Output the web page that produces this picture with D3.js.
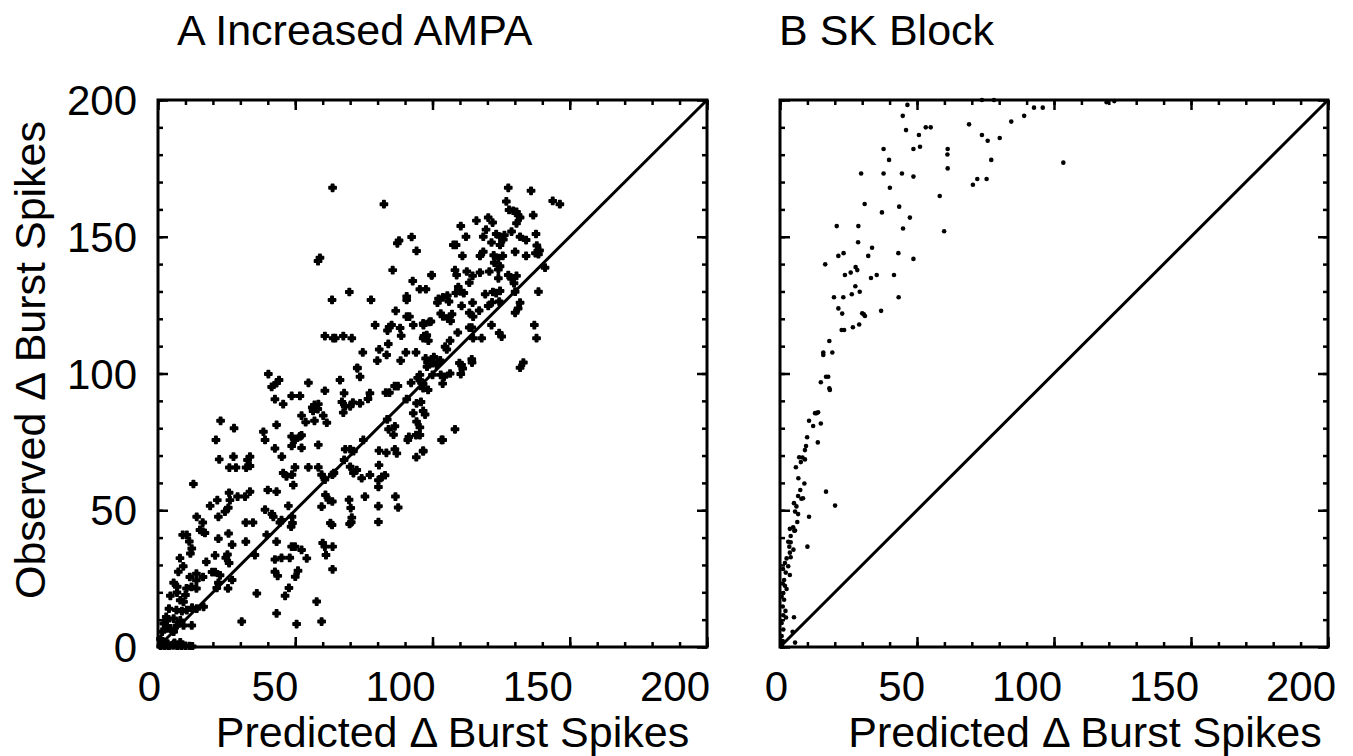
<!DOCTYPE html>
<html>
<head>
<meta charset="utf-8">
<script src="https://cdn.jsdelivr.net/npm/d3@7"></script>
<style>
  body { margin: 0; background: #fff; }
  svg { display: block; font-family: "Liberation Sans", Arial, Helvetica, sans-serif; }
</style>
</head>
<body>
<div id="chart"></div>
<script>
// Observed vs predicted change in burst spikes, two panels

// tick values for both axes
var majorTicks = [0, 50, 100, 150, 200];
var minorTicks = d3.range(0, 201, 10);

// panel A: increased AMPA  [predicted, observed]
var ampaPoints = [
  [63.6,167.9],[82.3,161.9],[92.4,149.9],[87.2,147.6],[87.8,148.6],[94.2,144.8],[58.3,141.1],[59,142.3],[85.5,137.8],[99.7,135.9],
  [92.8,133.8],[95.4,130.8],[97.6,130.8],[69.7,129.8],[63.4,126.9],[77.6,126.9],[90.6,126.9],[90.6,128.2],[101.8,125.9],[86.6,122.9],
  [90.6,120.8],[91.6,120.8],[79.1,117.7],[85.1,117.7],[93,117.7],[96.7,117.7],[99.4,119],[83.6,115.7],[84.2,117],[88.2,116.6],
  [88.6,113.8],[96.9,113.7],[98.5,112],[60.8,113.7],[63.8,112.9],[64.6,112.9],[67.5,113.7],[70.6,112.9],[83.9,110.8],[74.6,107.7],
  [80.6,108.8],[83.3,106.8],[90.3,107.7],[94,107.7],[79.9,104.7],[88.4,104.7],[97.5,105.5],[99,104.5],[100.5,106],[101.5,103.2],
  [102.8,104.8],[98,102.5],[72.6,102.1],
  [127.6,167.9],[135.9,166.8],[143.8,163.1],[146.4,161.9],[126.9,162.9],[127.9,159.8],[129.4,159.5],[131.2,157.9],[130.6,159.1],[131.9,157],
  [136.7,157.9],[120.3,157],[121.9,155.2],[116,155.9],[110.3,153.9],[130.6,154.9],[119.5,152.6],[112.2,150],[118.5,150],[123.2,151],
  [124.6,150],[125.8,149],[126.2,150.6],[128.8,151.9],[131.9,150],[134.1,148.8],[137.7,151],[121.5,147.9],[124.6,147],[138,146.8],
  [139,145],[137.5,144],[138.6,143.6],[107.6,147],[108.6,147],[110.9,143],[117.3,143],[118.5,144.5],[122.3,143.2],[124,142.2],
  [125.6,143],[122.5,140.5],[124.6,139.2],[124,138],[130.1,144.5],[134.1,143],[141,138.7],[99.7,136],[108.2,137.8],[108.8,136],
  [112.5,137.3],[114.6,135.7],[117.3,136.9],[120.7,137.3],[127.6,136],[128.8,134.6],[130.6,135.7],[129.7,133],[124,134.8],[109.4,131.6],
  [110.2,130],[111.4,129.4],[108.5,129.4],[113.4,133.2],[119.2,129],[122,129.8],[123.2,129.4],[124.6,130.2],[130.1,129.9],[138.6,129.9],
  [102.2,127.3],[103.8,127.8],[105.4,128.5],[106,126.3],[114.6,125.9],[124.3,126.3],[131.9,125.9],[131.2,123.8],[130.1,122.2],[103,121.9],
  [103.8,120.9],[105.6,120.1],[107.1,121.7],[106.6,119.2],[110.6,124.7],[113.4,122.2],[114.8,120.8],[117,123],[120.3,124.7],[121.7,126],
  [96.6,118.3],[98.9,118.9],[109.2,115],[113.4,116.8],[114.3,116.8],[121.5,117.7],[124.3,114.8],[125.2,113.5],[137.1,117.7],[137.9,112.9],
  [97.9,114],[96.6,112.9],[104.6,109.8],[105.2,108.8],[106.4,112],[114.8,112.9],[117.9,112.9],[110.6,103.1],[114.3,105.2],[133.1,104],
  [131.9,102.1],
  [95.4,99.5],[96.6,96.2],[98.4,94],[95.4,97.5],[100,99.5],[103,99.5],[104.2,98.8],[103.7,96.3],[106.4,100],[109.8,103.8],
  [111,101.8],[110.3,99.8],[114.4,104],[95.8,89.6],[97.3,85],[95.4,80.3],[95.4,77.5],[108.2,79.6],[103.7,75.7],[96.6,71.8],
  [40.2,99.8],[41.4,95.1],[44.1,97.6],[43.2,96.5],[42.6,90.6],[45.6,88.8],[48.7,91.8],[51.7,91.8],[54.8,96.6],[60.8,93.7],
  [56.2,87.6],[57,88.5],[58.2,87],[56.5,86.3],[58.4,88.8],[52.3,84.6],[53.8,82.2],[57,82.7],[60.2,84.6],[61.5,82],
  [66.3,97.6],[67.8,92.8],[67,89.6],[68.2,88],[70,88],[71,89.4],[67.5,85.7],[72.6,101.9],[73.6,98.8],[73.6,89.1],
  [77.2,92.8],[76.5,90.7],[83,93],[84.3,93],[86.2,95.4],[87.4,95.4],[92.2,96.6],[94.6,98.4],[96,96.6],[96.6,94.6],
  [98.2,104],[100,103.8],[90.6,90.6],[94.2,89.1],[93,85.5],[94.2,82.4],[96.6,86.3],[83.5,83.2],[86.3,80.7],[84,79.6],
  [85.8,77.6],[80.5,71.8],[83.2,71],[86.3,72.3],[87,70.8],[91,75.7],[91.4,76.8],[94,77.5],[96.6,71.5],[94.1,69.4],
  [103.3,75.7],[80.5,66.5],[81.6,62.2],[82.7,62.8],[80.3,61],[80.3,58.5],[74.8,75.7],[77.2,62.9],[74.2,61.7],[68.2,72.3],
  [70,72.3],[71.2,71.6],[70,65.9],[72.4,64.7],[71.2,63.6],[67.8,68.4],[75.4,55],[80.3,51.5],[80.3,45.7],[86.5,55],
  [87.5,51],[69.6,53.8],[70.2,50.8],[70.6,47.3],[70.4,45.6],[69.8,45],[59.6,63],[60.8,61.2],[63.5,63],[64.1,63.6],
  [58.4,73.9],[61,55.6],[62.2,53.8],[63.5,53.2],[59.6,51.3],[62.8,45.3],[63.4,44.6],[60,38],[60.8,36.7],[63.6,36.7],
  [61.2,33.6],[63.6,28.4],[57.8,16.6],[59.6,9.3],[50.5,8.4],[43.2,12.3],[36,19.6],[30.5,9.3],[48.7,36.7],[49.9,36.7],
  [52.3,35.5],[54.2,32.4],[42.6,32],[45,32.6],[48,32.6],[42.6,27.5],[43.6,26],[51,27.9],[50,25.7],[47.7,21.6],
  [46.3,18.7],[48.8,47.6],[49,45.3],[48.5,44],[47.5,51.6],[44.4,45.5],[45,46.4],[39.6,41],[43.2,38.5],[48.7,73.5],
  [49.9,75.7],[48.7,77],[51.7,77],[49.9,65.7],[54.8,65.7],[58.4,65.7],[52.3,72.8],[52.3,77.4],[45.1,69.6],[45.6,63.6],
  [46.8,62.4],[48.8,63],[49.3,59.2],[42.6,72.6],[43.2,81.2],[38.4,78.7],[39,75.7],[43.2,56.8],[40,57.4],[39,50.2],
  [41.5,48.6],[42,47.6],[33.5,56.8],[31.7,55],[29,55],[32,45.5],[34.6,45.5],[32,38.5],[35.3,33.6],[33.5,69.6],
  [32.6,68.4],[32.1,65.6],[33.5,66.2],[28.4,65.6],[26,65.6],[27.5,69.6],[22.8,82.7],[27.7,80],[21.1,75.7],[22.3,68.6],
  [25.9,56.4],[26.2,53.7],[25.6,50.9],[24.4,49.5],[21.6,53.7],[19,51.6],[12.9,59.6],[14.1,47.6],[16.3,45.5],[15.3,42.8],
  [17.1,41.7],[16.3,42.2],[22,47.6],[22,39.6],[25.7,41.5],[27,37.4],[25.3,33.8],[24.7,32.6],[25.9,30.7],[9,41],
  [10.5,41],[11.4,38.6],[12.3,36],[11.8,34.2],[20.8,33.5],[17.6,31.1],[19.7,27.4],[20.8,27.4],[22.6,26.2],[14,26.8],
  [16.4,25.6],[8,32.5],[9.2,29.5],[7.4,27.5],[11.6,25.6],[14,24.4],[10.4,21.4],[14,21.4],[12.2,22],[22,23.5],
  [21.4,21.6],[25.5,21.4],[27,24.5],[16.6,14.7],[14.1,14],[12.4,14.4],
  [5.7,23.5],[6.9,19.9],[4.5,18.7],[8.1,17.1],[9.3,16.5],[6.7,13.5],[8.7,13.1],[10.5,13.5],[5.7,10.4],[8.1,9.7],
  [3.3,9.7],[4.5,6.8],[6.9,7.9],[9.3,7.9],[12.3,7.9],[2.1,8.6],[3.3,6.8],[5.7,5.6],[1.5,5.6],[0.9,2.9],
  [2.7,1.7],[5.7,1.1],[8.1,1.7],[3,11],[4,14],[7,22],[10,19],
  [1,0.3],[2.5,0.5],[4,0.2],[5.5,0.6],[7,0.3],[8.5,0.2],[10,0.4],[11.5,0.3],[12.5,0.2],[3.5,1.2],[6,1.5]
];

// panel B: SK block  [predicted, observed]
var skPoints = [
  [46.5,198.2],[44.8,194.2],[46,189],[53.2,190],[55,190],[50.7,187.2],[48.7,182.1],[51.1,182.9],[61.2,182.1],[61.1,180.1],
  [61.2,175],[69,191.1],[73.7,187.2],[75.8,185.1],[80.2,186.1],[77.1,178.1],[70.4,169],[72,171.1],[75.4,171.1],[84.4,192.1],
  [89.1,194.2],[92.7,197.2],[95.9,197.2],[73.7,200],[78.1,200],[103.4,177.1],[119.2,199.2],[122,199.6],[37.8,182.1],[39.8,178.1],
  [29.6,173.1],[37.8,173.1],[44.5,173.1],[48.7,172],[40.1,167.9],[58.3,164.9],[30.9,162],[43.5,161],[37.2,158.9],[47.4,157],
  [20.7,153.9],[28.6,153.9],[44.9,153],[59.9,152],[28.5,148],[33.6,146],[21.3,143],[23.2,144],[32.2,143],[43.2,144],
  [48.7,141.9],[16.5,139.9],[27.6,138.9],[28.2,137.8],[23.7,136],[25.8,136.9],[33.2,134.9],[35.3,136],[41.6,136],[27.5,131.9],
  [19.7,127.9],[23.1,127.9],[26.2,129],[29.1,129.9],[43.3,127.9],[21.3,123.8],[22.7,121.9],[30,122],[31,121],[30.6,121.6],
  [36.9,122.9],[22.5,115.9],[23.4,115.9],[26.6,116.9],[28.9,117.9],[18,111.9],[15.8,106.8],[15.8,107.7],[19.1,107.7],
  [14.9,96.8],[16.8,98.8],[17.6,98.8],[18,94.6],[18.2,94],[12.8,85.5],[13.9,85.8],[13.3,85.5],[10.6,82.7],[12.1,80.8],
  [14.9,81.7],[13.8,74.8],[9.9,76.7],[9.5,73.5],[9.1,72],[7,69.4],[8.2,69.3],[9.1,68.6],[7.6,67.6],[5.8,65.7],
  [6.7,61.7],[8.9,59.8],[7.4,57.4],[6.6,55.2],[7.8,54.2],[8.4,54.4],[16.8,56.8],[20.1,51.7],[5.1,52.6],[6,51.4],
  [6.6,48.6],[6.3,45.7],[5.5,49.5],[10.6,47.6],[4.8,43.8],[5.5,42.6],[3.6,43.2],[5.2,42.5],[3.9,40.6],[3,38.5],
  [3.9,38.3],[3.4,36.7],[4.9,35.6],[3.6,34.5],[10,36.7],[2.4,32.4],[3.9,32.8],[1.8,30.7],[3,29.5],[1.1,28.5],
  [2.1,27.2],[3.6,26.3],[1.5,24.5],[1,23.2],[1.8,22.4],[2.4,21.2],[1.2,19.7],[0.6,18.4],[1.5,17.3],[1,14.8],
  [2,13.2],[1.2,11.6],[2.2,10.8],[5.1,10.9],[4.6,5.6],[5.5,1.6],[0.6,8.8],[1.2,6.4],[0.6,4],[1,2.2],[0.6,0.7]
];

(function () {
  var W = 1353, H = 756;
  var fontSize = 42;
  var plotTop = 100, plotBottom = 647;

  var svg = d3.select("#chart").append("svg")
      .attr("width", W)
      .attr("height", H);

  // panel layout (pixel boxes)
  var panels = [
    { title: "A Increased AMPA", data: ampaPoints, left: 158, right: 707, titleX: 177, labelShift: 20, tickShift: 3, yLabels: true, marker: "cross" },
    { title: "B SK Block", data: skPoints, left: 780, right: 1328, titleX: 779, labelShift: 31, tickShift: 8, yLabels: false, marker: "dot" }
  ];

  panels.forEach(function (p, pi) {
    var x = d3.scaleLinear().domain([0, 200]).range([p.left, p.right]);
    var y = d3.scaleLinear().domain([0, 200]).range([plotBottom, plotTop]);
    var g = svg.append("g");

    // clip so points at the edge don't spill out
    var clipId = "clip-" + pi;
    g.append("clipPath").attr("id", clipId)
      .append("rect")
      .attr("x", p.left - 3).attr("y", plotTop - 3)
      .attr("width", p.right - p.left + 6).attr("height", plotBottom - plotTop + 6);

    // minor + major ticks on all four sides, pointing inward
    function addAxis(axisFn, scale, ticks, size, transform) {
      g.append("g")
        .attr("transform", transform)
        .call(axisFn(scale).tickValues(ticks).tickSize(size).tickFormat("").tickSizeOuter(0))
        .call(function (s) {
          s.select(".domain").remove();
          s.selectAll(".tick line").attr("stroke", "#000").attr("stroke-width", 2.5);
        });
    }
    [[minorTicks, 5], [majorTicks, 10]].forEach(function (t) {
      addAxis(d3.axisBottom, x, t[0], -t[1], "translate(0," + plotBottom + ")");
      addAxis(d3.axisTop, x, t[0], -t[1], "translate(0," + plotTop + ")");
      addAxis(d3.axisLeft, y, t[0], -t[1], "translate(" + p.left + ",0)");
      addAxis(d3.axisRight, y, t[0], -t[1], "translate(" + p.right + ",0)");
    });

    // frame
    g.append("rect")
      .attr("x", p.left).attr("y", plotTop)
      .attr("width", p.right - p.left).attr("height", plotBottom - plotTop)
      .attr("fill", "none").attr("stroke", "#000").attr("stroke-width", 3);

    // identity line
    g.append("line")
      .attr("x1", x(0)).attr("y1", y(0))
      .attr("x2", x(200)).attr("y2", y(200))
      .attr("stroke", "#000").attr("stroke-width", 3);

    // points
    var pts = g.append("g").attr("clip-path", "url(#" + clipId + ")");
    if (p.marker === "cross") {
      var sym = d3.symbol().type(d3.symbolCross).size(28);
      pts.selectAll("path")
        .data(p.data)
        .enter().append("path")
        .attr("d", sym)
        .attr("transform", d => "translate(" + x(d[0]) + "," + y(d[1]) + ")")
        .attr("fill", "#000")
        .attr("stroke", "#000")
        .attr("stroke-width", 1.6)
        .attr("stroke-linejoin", "round");
    } else {
      pts.selectAll("circle")
        .data(p.data)
        .enter().append("circle")
        .attr("cx", d => x(d[0]))
        .attr("cy", d => y(d[1]))
        .attr("r", 2.3)
        .attr("fill", "#000");
    }

    // x tick labels (right aligned on the tick)
    g.selectAll("text.xlab")
      .data(majorTicks)
      .enter().append("text")
      .attr("class", "xlab")
      .attr("x", d => x(d) + p.tickShift)
      .attr("y", plotBottom + 54)
      .attr("text-anchor", "end")
      .attr("font-size", fontSize)
      .text(d => d);

    if (p.yLabels) {
      g.selectAll("text.ylab")
        .data(majorTicks)
        .enter().append("text")
        .attr("class", "ylab")
        .attr("x", p.left - 21)
        .attr("y", d => y(d) + 15)
        .attr("text-anchor", "end")
        .attr("font-size", fontSize)
        .text(d => d);

      g.append("text")
        .attr("transform", "translate(45,360) rotate(-90)")
        .attr("text-anchor", "middle")
        .attr("font-size", fontSize + 1)
        .text("Observed \u0394 Burst Spikes");
    }

    // title
    g.append("text")
      .attr("x", p.titleX)
      .attr("y", 45)
      .attr("font-size", fontSize + 1)
      .text(p.title);

    // x axis label
    g.append("text")
      .attr("x", (p.left + p.right) / 2 + p.labelShift)
      .attr("y", 747)
      .attr("text-anchor", "middle")
      .attr("font-size", fontSize + 1)
      .text("Predicted \u0394 Burst Spikes");
  });
})();
</script>
</body>
</html>
